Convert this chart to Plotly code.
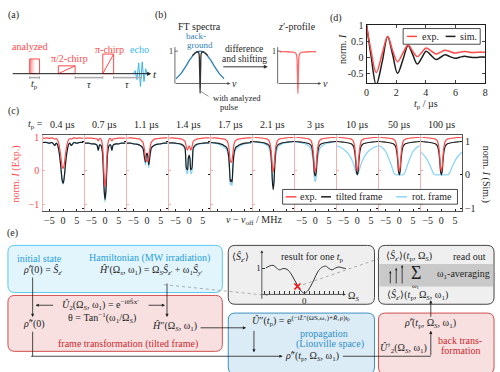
import plotly.graph_objects as go

SERIF = "Liberation Serif"
RED = "#ff4a4a"
RED_SOFT = "#f7b0b0"
RED_TEXT = "#c8292f"
BLUE = "#8bd5f7"
BLUE_TEXT = "#25a0dc"
DARK = "#1e1e1e"

# (d) normalised intensity vs pulse length
tp_d = [0, 0.3, 0.65, 1.05, 1.42, 1.75, 2.09, 2.45, 2.8, 3.1, 3.42, 3.72, 4.02, 4.35, 4.69,
        5.0, 5.29, 5.62, 5.95, 6.28, 6.6, 6.92, 7.25, 7.58, 7.9, 8.0]
exp_d = [1.0, 0.2, -0.48, 0.1, 0.65, 0.22, -0.14, 0.13, 0.38, 0.2, 0.02, 0.15, 0.29, 0.2, 0.1,
         0.16, 0.22, 0.18, 0.13, 0.16, 0.18, 0.16, 0.15, 0.16, 0.16, 0.16]
sim_d = [1.0, 0.05, -0.86, -0.15, 0.65, 0.1, -0.5, -0.08, 0.37, 0.1, -0.21, -0.02, 0.19, 0.06, -0.07,
         0.0, 0.08, 0.02, -0.03, 0.0, 0.03, 0.01, -0.01, 0.0, 0.01, 0.0]

# (c) z'-profiles for different t_p
nu_c = [-7.5, -6, -5, -4, -3, -2.5, -2, -1.5, -1, -0.6, -0.3, 0, 0.3, 0.6, 1, 1.5, 2, 2.5, 3, 4, 5, 6, 7.5]
tp_c = ["0.4 µs", "0.7 µs", "1.1 µs", "1.4 µs", "1.7 µs", "2.1 µs", "3 µs", "10 µs", "50 µs", "100 µs"]
exp_c = [
    [0.97, 0.99, 0.97, 0.99, 0.95, 0.97, 0.93, 0.8, 0.55, 0.3, 0.12, 0.07, 0.12, 0.3, 0.55, 0.8, 0.93, 0.97, 0.95, 0.99, 0.97, 0.99, 0.97],
    [0.98, 0.98, 0.98, 0.97, 0.96, 0.9, 0.97, 0.95, 0.8, 0.3, -0.25, -0.47, -0.25, 0.3, 0.8, 0.95, 0.97, 0.9, 0.96, 0.97, 0.98, 0.98, 0.98],
    [0.99, 0.99, 0.98, 0.97, 0.96, 0.95, 0.9, 0.85, 0.65, 0.4, 0.3, 0.32, 0.28, 0.38, 0.65, 0.85, 0.9, 0.95, 0.96, 0.97, 0.98, 0.99, 0.99],
    [0.99, 0.99, 0.98, 0.97, 0.96, 0.94, 0.92, 0.88, 0.7, 0.62, 0.7, 0.75, 0.7, 0.62, 0.7, 0.88, 0.92, 0.94, 0.96, 0.97, 0.98, 0.99, 0.99],
    [0.99, 0.99, 0.98, 0.97, 0.96, 0.95, 0.93, 0.9, 0.78, 0.5, 0.3, 0.25, 0.3, 0.5, 0.78, 0.9, 0.93, 0.95, 0.96, 0.97, 0.98, 0.99, 0.99],
    [1.0, 1.0, 0.99, 0.98, 0.97, 0.96, 0.94, 0.9, 0.75, 0.45, 0.12, -0.03, 0.12, 0.45, 0.75, 0.9, 0.94, 0.96, 0.97, 0.98, 0.99, 1.0, 1.0],
    [1.0, 1.0, 0.99, 0.98, 0.97, 0.96, 0.94, 0.9, 0.75, 0.45, 0.1, -0.03, 0.1, 0.45, 0.75, 0.9, 0.94, 0.96, 0.97, 0.98, 0.99, 1.0, 1.0],
    [1.0, 1.0, 0.99, 0.98, 0.97, 0.96, 0.94, 0.9, 0.75, 0.45, 0.12, 0.0, 0.12, 0.45, 0.75, 0.9, 0.94, 0.96, 0.97, 0.98, 0.99, 1.0, 1.0],
    [1.0, 1.0, 0.99, 0.98, 0.97, 0.96, 0.94, 0.9, 0.75, 0.45, 0.12, 0.0, 0.12, 0.45, 0.75, 0.9, 0.94, 0.96, 0.97, 0.98, 0.99, 1.0, 1.0],
    [1.0, 1.0, 0.99, 0.98, 0.97, 0.96, 0.94, 0.9, 0.75, 0.45, 0.12, 0.0, 0.12, 0.45, 0.75, 0.9, 0.94, 0.96, 0.97, 0.98, 0.99, 1.0, 1.0],
]
tilted_c = [
    [0.97, 0.97, 0.95, 0.97, 0.88, 0.95, 0.9, 0.72, 0.4, 0.05, -0.17, -0.26, -0.17, 0.05, 0.4, 0.72, 0.9, 0.95, 0.88, 0.97, 0.95, 0.97, 0.97],
    [0.95, 0.95, 0.93, 0.93, 0.9, 0.73, 0.9, 0.88, 0.7, 0.1, -0.5, -0.74, -0.5, 0.1, 0.7, 0.88, 0.9, 0.73, 0.9, 0.93, 0.93, 0.95, 0.95],
    [0.95, 0.95, 0.93, 0.92, 0.9, 0.88, 0.85, 0.8, 0.55, 0.38, 0.6, 0.65, 0.55, 0.3, 0.55, 0.8, 0.85, 0.88, 0.9, 0.92, 0.93, 0.95, 0.95],
    [0.96, 0.96, 0.95, 0.94, 0.92, 0.9, 0.87, 0.8, 0.2, 0.15, 0.5, 0.59, 0.5, 0.15, 0.2, 0.8, 0.87, 0.9, 0.92, 0.94, 0.95, 0.96, 0.96],
    [0.97, 0.96, 0.95, 0.93, 0.9, 0.87, 0.85, 0.8, 0.62, 0.2, -0.2, -0.15, -0.22, 0.2, 0.62, 0.8, 0.85, 0.87, 0.9, 0.93, 0.95, 0.96, 0.97],
    [1.0, 0.99, 0.98, 0.97, 0.95, 0.93, 0.92, 0.88, 0.75, 0.35, -0.2, -0.45, -0.2, 0.35, 0.75, 0.88, 0.92, 0.93, 0.95, 0.97, 0.98, 0.99, 1.0],
    [1.0, 0.99, 0.98, 0.97, 0.95, 0.94, 0.92, 0.88, 0.72, 0.4, 0.05, -0.03, 0.05, 0.4, 0.72, 0.88, 0.92, 0.94, 0.95, 0.97, 0.98, 0.99, 1.0],
    [1.0, 0.99, 0.98, 0.97, 0.95, 0.94, 0.92, 0.87, 0.72, 0.42, 0.1, 0.0, 0.1, 0.42, 0.72, 0.87, 0.92, 0.94, 0.95, 0.97, 0.98, 0.99, 1.0],
    [1.0, 0.99, 0.98, 0.97, 0.95, 0.94, 0.92, 0.87, 0.72, 0.42, 0.1, 0.0, 0.1, 0.42, 0.72, 0.87, 0.92, 0.94, 0.95, 0.97, 0.98, 0.99, 1.0],
    [1.0, 0.99, 0.98, 0.97, 0.95, 0.94, 0.92, 0.87, 0.72, 0.42, 0.1, 0.0, 0.1, 0.42, 0.72, 0.87, 0.92, 0.94, 0.95, 0.97, 0.98, 0.99, 1.0],
]
rot_c = [
    [0.97, 0.97, 0.95, 0.97, 0.88, 0.95, 0.9, 0.72, 0.4, 0.04, -0.19, -0.28, -0.19, 0.04, 0.4, 0.72, 0.9, 0.95, 0.88, 0.97, 0.95, 0.97, 0.97],
    [0.95, 0.95, 0.93, 0.93, 0.9, 0.73, 0.9, 0.88, 0.7, 0.08, -0.55, -0.82, -0.55, 0.08, 0.7, 0.88, 0.9, 0.73, 0.9, 0.93, 0.93, 0.95, 0.95],
    [0.95, 0.95, 0.93, 0.92, 0.9, 0.87, 0.83, 0.76, 0.5, 0.3, 0.55, 0.62, 0.5, 0.22, 0.5, 0.76, 0.83, 0.87, 0.9, 0.92, 0.93, 0.95, 0.95],
    [0.95, 0.95, 0.94, 0.93, 0.9, 0.88, 0.84, 0.75, 0.08, 0.03, 0.45, 0.55, 0.45, 0.03, 0.08, 0.75, 0.84, 0.88, 0.9, 0.93, 0.94, 0.95, 0.95],
    [0.96, 0.95, 0.93, 0.9, 0.86, 0.82, 0.8, 0.73, 0.55, 0.1, -0.3, -0.25, -0.32, 0.1, 0.55, 0.73, 0.8, 0.82, 0.86, 0.9, 0.93, 0.95, 0.96],
    [0.99, 0.98, 0.97, 0.95, 0.92, 0.9, 0.87, 0.8, 0.6, 0.3, -0.15, -0.35, -0.15, 0.3, 0.6, 0.8, 0.87, 0.9, 0.92, 0.95, 0.97, 0.98, 0.99],
    [0.99, 0.98, 0.96, 0.94, 0.9, 0.87, 0.83, 0.75, 0.55, 0.25, -0.1, -0.2, -0.1, 0.25, 0.55, 0.75, 0.83, 0.87, 0.9, 0.94, 0.96, 0.98, 0.99],
    [0.87, 0.82, 0.77, 0.7, 0.6, 0.53, 0.45, 0.35, 0.22, 0.12, 0.04, 0.0, 0.04, 0.12, 0.22, 0.35, 0.45, 0.53, 0.6, 0.7, 0.77, 0.82, 0.87],
    [0.88, 0.8, 0.7, 0.52, 0.3, 0.18, 0.06, 0.01, 0.0, 0.0, 0.0, 0.0, 0.0, 0.0, 0.0, 0.01, 0.06, 0.18, 0.3, 0.52, 0.7, 0.8, 0.88],
    [0.68, 0.55, 0.42, 0.25, 0.06, 0.01, 0.0, 0.0, 0.0, 0.0, 0.0, 0.0, 0.0, 0.0, 0.0, 0.0, 0.0, 0.01, 0.06, 0.25, 0.42, 0.55, 0.68],
]

# (b) sketch spectra
nu_b = [-2.5, -2, -1.5, -1, -0.5, 0, 0.5, 1, 1.5, 2, 2.5]
bg_b = [0.15, 0.3, 0.52, 0.76, 0.94, 1.0, 0.94, 0.76, 0.52, 0.3, 0.15]
nu_notch = [-0.8, -0.5, -0.3, -0.15, -0.06, 0, 0.06, 0.15, 0.3, 0.5, 0.8]
pulse_b = [0.86, 0.94, 0.98, 0.95, 0.5, -0.3, 0.5, 0.95, 0.98, 0.94, 0.86]
nu_z = [-2, -1.2, -0.6, -0.3, -0.15, -0.06, 0, 0.06, 0.15, 0.3, 0.6, 1.2, 2]
z_prof = [0.98, 0.98, 0.97, 0.95, 0.88, 0.4, -0.3, 0.4, 0.88, 0.95, 0.97, 0.98, 0.98]

# (e) result for one t_p
omega_e = [-7.8, -7, -6.3, -5.6, -5, -4.3, -3.5, -2.7, -2, -1.3, -0.6, 0, 0.6, 1.3, 2, 2.7, 3.5, 4.3, 5, 5.6, 6.3, 7, 7.8, 8.4]
sz_e = [1.0, 1.08, 1.1, 1.0, 0.93, 0.98, 0.95, 0.78, 0.55, 0.32, 0.12, 0.05, 0.12, 0.32, 0.58, 0.85, 1.02, 1.07, 0.98, 0.93, 1.0, 1.04, 1.0, 0.98]
omega_mark = [-1.4]
sz_mark = [0.3]

# echo sketch in (a)
echo_amp = [0, 3, -6, 11, -13, 12, -8, 5, -2, 0]

W, H = 500, 372


def px(x):
    return x / W


def py(y):
    return 1 - y / H


ann = []
shapes = []


def text(x, y, s, size=10, color=DARK, angle=0, xanchor="center"):
    ann.append(dict(x=px(x), y=py(y), xref="paper", yref="paper", text=s, showarrow=False,
                    font=dict(size=size, color=color, family=SERIF), textangle=angle,
                    xanchor=xanchor, yanchor="middle"))


def arrow(x0, y0, x1, y1, color=DARK, width=1, size=0.8):
    ann.append(dict(x=px(x1), y=py(y1), xref="paper", yref="paper", ax=x0 - x1, ay=y0 - y1,
                    axref="pixel", ayref="pixel", text="", showarrow=True, arrowhead=2,
                    arrowsize=size, arrowwidth=width, arrowcolor=color))


def line(x0, y0, x1, y1, color=DARK, width=1, dash=None, layer="above"):
    shapes.append(dict(type="line", xref="paper", yref="paper", x0=px(x0), y0=py(y0),
                       x1=px(x1), y1=py(y1), layer=layer,
                       line=dict(color=color, width=width, dash=dash)))


def rect(x0, y0, x1, y1, color=DARK, fill="rgba(0,0,0,0)", width=1, layer="above"):
    shapes.append(dict(type="rect", xref="paper", yref="paper", x0=px(x0), y0=py(y0),
                       x1=px(x1), y1=py(y1), fillcolor=fill, layer=layer,
                       line=dict(color=color, width=width)))


def rrect(x0, y0, x1, y1, color, fill, r=7, width=1):
    p = (f"M {px(x0 + r)},{py(y0)} L {px(x1 - r)},{py(y0)} Q {px(x1)},{py(y0)} {px(x1)},{py(y0 + r)} "
         f"L {px(x1)},{py(y1 - r)} Q {px(x1)},{py(y1)} {px(x1 - r)},{py(y1)} "
         f"L {px(x0 + r)},{py(y1)} Q {px(x0)},{py(y1)} {px(x0)},{py(y1 - r)} "
         f"L {px(x0)},{py(y0 + r)} Q {px(x0)},{py(y0)} {px(x0 + r)},{py(y0)} Z")
    shapes.append(dict(type="path", xref="paper", yref="paper", path=p, fillcolor=fill,
                       layer="below", line=dict(color=color, width=width)))


fig = go.Figure()
layout = {}

# ---------- (d) ----------
fig.add_trace(go.Scatter(x=tp_d, y=sim_d, mode="lines", xaxis="x", yaxis="y",
                         line=dict(color=DARK, width=1.5, shape="spline")))
fig.add_trace(go.Scatter(x=tp_d, y=exp_d, mode="lines", xaxis="x", yaxis="y",
                         line=dict(color=RED, width=1.5, shape="spline")))
tick_font = dict(size=10, family=SERIF, color=DARK)
layout["xaxis"] = dict(domain=[px(368), px(488)], range=[0, 8], anchor="y", tickvals=[0, 2, 4, 6, 8],
                       ticks="inside", ticklen=3, showline=True, mirror="ticks", linecolor=DARK,
                       showgrid=False, zeroline=False, tickfont=tick_font)
layout["yaxis"] = dict(domain=[py(80), py(20)], range=[-0.82, 1.02], anchor="x",
                       tickvals=[-0.5, 0, 0.5, 1], ticktext=["-0.5", "0", "0.5", "1"],
                       ticks="inside", ticklen=3, showline=True, mirror="ticks", linecolor=DARK,
                       showgrid=False, zeroline=False, tickfont=tick_font)
text(343, 45, "norm. <i>I</i>", angle=-90)
text(428, 101, "<i>t</i><sub>p</sub> / µs")
rect(405, 24, 483, 40, color=DARK, fill="white", width=0.8)
line(409, 32, 419, 32, RED, 1.5)
text(422, 32, "exp.", xanchor="left")
line(448, 32, 458, 32, DARK, 1.5)
text(461, 32, "sim.", xanchor="left")

# ---------- (c) ----------
for i in range(10):
    n = i + 2
    xa, ys, ye = f"x{n}", f"y{n}", f"y{n + 10}"
    fig.add_trace(go.Scatter(x=nu_c, y=rot_c[i], mode="lines", xaxis=xa, yaxis=ys,
                             line=dict(color=BLUE, width=1.3, shape="spline", smoothing=0.8)))
    fig.add_trace(go.Scatter(x=nu_c, y=tilted_c[i], mode="lines", xaxis=xa, yaxis=ys,
                             line=dict(color=DARK, width=1.2, shape="spline", smoothing=0.8)))
    fig.add_trace(go.Scatter(x=nu_c, y=exp_c[i], mode="lines", xaxis=xa, yaxis=ye,
                             line=dict(color=RED, width=1.2, shape="spline", smoothing=0.8)))
    x0 = 40 + 42.55 * i
    layout[f"xaxis{n}"] = dict(domain=[px(x0), px(x0 + 41.5)], range=[-7.5, 7.5], anchor=ys,
                               tickvals=[-5, 0, 5], ticks="inside", ticklen=2, tickcolor=DARK,
                               showline=True, mirror=True, linecolor="#555", linewidth=1,
                               showgrid=False, zeroline=False, showticklabels=i not in (4, 5),
                               tickfont=tick_font)
    layout[f"yaxis{n}"] = dict(domain=[py(210), py(132)], range=[-1.09, 1.21], anchor=xa, side="right",
                               tickvals=[-1, 0, 1], ticks="inside", ticklen=2, tickcolor=DARK,
                               showline=True, linecolor="#555", linewidth=1, showgrid=False,
                               zeroline=False, showticklabels=(i == 9), tickfont=tick_font)
    layout[f"yaxis{n + 10}"] = dict(overlaying=ys, anchor=xa, side="left", range=[-1.21, 1.09],
                                    tickvals=[-1, 0, 1], ticks="inside", ticklen=2, tickcolor=RED_SOFT,
                                    tickwidth=1, showline=True, linecolor=RED_SOFT, linewidth=1.4,
                                    showgrid=False, zeroline=False, showticklabels=(i == 0),
                                    tickfont=dict(size=10, family=SERIF, color=RED))
    text(60.5 + 42.55 * i, 122, tp_c[i])
text(33, 122, "<i>t</i><sub>p</sub> =")
text(13, 172, "norm. <i>I</i> (Exp.)", color=RED, angle=-90)
text(489, 172, "norm. <i>I</i> (Sim.)", angle=90)
text(254, 220, "<i>ν</i> − <i>ν</i><sub>off</sub> / MHz")
rect(283, 188, 460, 203, color=DARK, fill="white", width=0.8)
line(286, 195.5, 297, 195.5, RED, 1.5)
text(299, 195.5, "exp.", xanchor="left")
line(322, 195.5, 332, 195.5, DARK, 1.5)
text(335, 195.5, "tilted frame", xanchor="left")
line(398, 195.5, 409, 195.5, BLUE, 1.5)
text(412, 195.5, "rot. frame", xanchor="left")

# ---------- (b) ----------
fig.add_trace(go.Scatter(x=nu_b, y=bg_b, mode="lines", xaxis="x12", yaxis="y22",
                         line=dict(color="#2f7fb5", width=1.3, shape="spline")))
fig.add_trace(go.Scatter(x=nu_notch, y=pulse_b, mode="lines", xaxis="x12", yaxis="y22",
                         line=dict(color="#333", width=1.3, shape="spline")))
fig.add_trace(go.Scatter(x=nu_z, y=z_prof, mode="lines", xaxis="x13", yaxis="y23",
                         line=dict(color="#ff6b6b", width=1.3, shape="spline")))
layout["xaxis12"] = dict(domain=[px(175), px(224)], range=[-2.5, 2.5], anchor="y22", visible=False)
layout["yaxis22"] = dict(domain=[py(95), py(40)], range=[-0.45, 1.21], anchor="x12", visible=False)
layout["xaxis13"] = dict(domain=[px(280), px(317)], range=[-2, 2], anchor="y23", visible=False)
layout["yaxis23"] = dict(domain=[py(95), py(40)], range=[-0.45, 1.21], anchor="x13", visible=False)
for ax0, ax1 in ((174, 230), (278, 322)):
    line(ax0, 43, ax0, 80, "#444", 0.8)
    line(ax0, 47, ax0 + 3, 47, "#444", 0.8)
    arrow(ax0, 80, ax1, 80, "#444", 0.8, 0.7)
    text(ax0 - 4, 47, "1", size=8)
    text(ax1 + 4, 80, "<i>ν</i>", size=10)
text(199, 22, "FT spectra")
text(298, 22, "<i>z</i>′-profile")
text(195, 32, "back-", size=9, color="#2f7fb5")
text(199, 40.5, "ground", size=9, color="#2f7fb5")
text(244, 45, "difference", size=9.5)
text(244, 55, "and shifting", size=9.5)
arrow(222, 63, 268, 63, "#333", 1, 0.8)
line(200, 88, 208, 93, "#666", 0.7)
text(237, 95, "with analyzed", size=8.5)
text(229, 104, "pulse", size=8.5)

# ---------- (a) ----------
for k, op in enumerate([0.75, 0.55, 0.38, 0.24, 0.13, 0.05]):
    rect(27 + k, 55, 28 + k, 70, color="rgba(0,0,0,0)", fill=f"rgba(255,80,80,{op})", width=0)
rect(27, 55, 37, 70, color=RED, width=1)
rect(56, 62, 73, 70, color=RED, width=1)
line(56, 70, 73, 62, RED, 1)
rect(101, 50, 112, 70, color=RED, width=1)
line(101, 70, 112, 50, RED, 1)
ex0, ex1 = 132, 148
pts = " L ".join(f"{px(ex0 + (ex1 - ex0) * k / (len(echo_amp) - 1))},{py(70 - a)}"
                 for k, a in enumerate(echo_amp))
shapes.append(dict(type="path", xref="paper", yref="paper", path="M " + pts,
                   line=dict(color="#39b6f0", width=1)))
arrow(10, 70, 150, 70, DARK, 1, 0.8)
text(154, 70, "<i>t</i>", size=11)
for b0, b1, lab in ((27, 37, "<i>t</i><sub>p</sub>"), (73, 101, "<i>τ</i>"), (112, 140, "<i>τ</i>")):
    line(b0, 74, b1, 74, "#aaa", 1.5)
    line(b0, 72.5, b0, 75.5, "#aaa", 1)
    line(b1, 72.5, b1, 75.5, "#aaa", 1)
    text((b0 + b1) / 2, 81, lab)
text(27, 42, "analyzed", color=RED)
text(67, 55, "π/2-chirp", color=RED)
text(108, 45, "π-chirp", color=RED)
text(138, 45, "echo", color="#39b6f0")

# ---------- (e) ----------
rrect(5, 245, 222, 293, "#5cc6f2", "#e2f5fd")
rrect(5, 296, 222, 353, "#cf4f4f", "#f8e0e0")
rrect(228, 245, 376, 305, "#444", "#efefef")
rrect(380, 245, 497, 305, "#444", "#efefef")
rect(381, 264, 496, 287, color="rgba(0,0,0,0)", fill="#c9c9c9", width=0, layer="below")
rrect(228, 314, 376, 376, "#3f8fc0", "#dcecf6")
rrect(380, 314, 497, 376, "#cf4f4f", "#f8e0e0")

fig.add_trace(go.Scatter(x=omega_e, y=sz_e, mode="lines", xaxis="x14", yaxis="y24",
                         line=dict(color="#333", width=1, shape="spline")))
fig.add_trace(go.Scatter(x=omega_mark, y=sz_mark, mode="markers", xaxis="x14", yaxis="y24",
                         marker=dict(symbol="x-thin", size=6, line=dict(color="red", width=1.5))))
layout["xaxis14"] = dict(domain=[px(262), px(348)], range=[-8.6, 8.6], anchor="y24", showline=False,
                         showgrid=False, zeroline=False, tickvals=list(range(-8, 9)),
                         ticktext=[""] * 8 + ["0"] + [""] * 8, ticks="inside", ticklen=3,
                         tickcolor="#333", tickfont=dict(size=9, family=SERIF, color=DARK))
layout["yaxis24"] = dict(domain=[py(295), py(250)], range=[0, 1.67], anchor="x14", showline=False,
                         showgrid=False, zeroline=False, tickvals=[1], ticktext=["1"], ticks="inside",
                         ticklen=3, tickcolor="#333", tickfont=dict(size=9, family=SERIF, color=DARK))
arrow(262, 295, 347, 295, "#333", 0.8, 0.7)
arrow(262, 300, 262, 250, "#333", 0.8, 0.7)
text(355, 297, "Ω<sub><i>S</i></sub>", size=10)
text(240, 257, "⟨<i>Ŝ</i><sub><i>z</i>′</sub>⟩", size=10)
text(313, 257, "result for one <i>t</i><sub>p</sub>", size=10)

text(37, 258, "initial state", color=BLUE_TEXT)
text(40, 271, "<i>ρ̃</i>′(0) = <i>Ŝ</i><sub><i>z</i>′</sub>")
text(148, 258, "Hamiltonian (MW irradiation)", color=BLUE_TEXT)
text(150, 271, "<i>Ĥ</i>′(Ω<sub><i>s</i></sub>, ω<sub>1</sub>) = Ω<sub><i>S</i></sub><i>Ŝ</i><sub><i>z</i>′</sub> + ω<sub>1</sub><i>Ŝ</i><sub><i>y</i>′</sub>")

text(99, 306, "<i>Û</i><sub>2</sub>(Ω<sub><i>S</i></sub>, ω<sub>1</sub>) = e<sup>−iθŜx′</sup>")
text(100, 319, "θ = Tan<sup>−1</sup>(ω<sub>1</sub>/Ω<sub><i>S</i></sub>)")
text(31, 325, "<i>ρ̃</i>″(0)")
text(174, 328, "<i>Ĥ</i>″(Ω<sub><i>S</i></sub>, ω<sub>1</sub>)")
text(127, 345, "frame transformation (tilted frame)", color=RED_TEXT)
arrow(52, 306, 33, 306, DARK, 0.8, 0.8)
arrow(146, 306, 164, 306, DARK, 0.8, 0.8)
arrow(30, 277, 30, 318, DARK, 0.8, 0.8)
arrow(166, 283, 166, 318, DARK, 0.8, 0.8)
arrow(199, 329, 246, 329, DARK, 0.8, 0.8)
line(30, 333, 30, 358, DARK, 0.8)
arrow(30, 358, 283, 358, DARK, 0.8, 0.8)
arrow(254, 331, 254, 354, DARK, 0.8, 0.8)
line(344, 358, 433, 358, DARK, 0.8)
arrow(433, 358, 433, 332, DARK, 0.8, 0.8)
arrow(433, 319, 433, 301, DARK, 0.8, 0.8)
line(163, 285, 268, 296, "#999", 0.8, "dot")
line(298, 287, 382, 258, "#999", 0.8, "dot")

text(302, 322, "<i>Û</i>″(<i>t</i><sub>p</sub>) = e<sup>(−i<i>L̂</i>″(ΩS,ω₁)+<i>R̂</i>₂ρ)tₚ</sup>")
text(325, 335, "propagation", color="#2f8fc7")
text(331, 346, "(Liouville space)", color="#2f8fc7")
text(313, 358, "<i>ρ̃</i>″(<i>t</i><sub>p</sub>, Ω<sub><i>S</i></sub>, ω<sub>1</sub>)")

text(432, 325, "<i>ρ̃</i>′(<i>t</i><sub>p</sub>, Ω<sub><i>S</i></sub>, ω<sub>1</sub>)")
text(405, 350, "<i>Û</i><sup>†</sup><sub>2</sub>(Ω<sub><i>S</i></sub>, ω<sub>1</sub>)")
text(463, 342, "back trans-", color=RED_TEXT)
text(463, 352, "formation", color=RED_TEXT)

text(411, 256, "⟨<i>Ŝ</i><sub><i>z</i>′</sub>⟩(<i>t</i><sub>p</sub>, Ω<sub><i>S</i></sub>)")
text(472, 256, "read out")
arrow(392, 285, 392, 271, DARK, 0.8, 0.6)
arrow(398, 285, 398, 268, DARK, 0.8, 0.6)
arrow(404, 285, 404, 265, DARK, 0.8, 0.6)
text(418, 273, "Σ", size=18)
text(418, 286, "ω<sub>1</sub>", size=7)
text(466, 275, "ω<sub>1</sub>-averaging")
text(420, 296, "⟨<i>Ŝ</i><sub><i>z</i>′</sub>⟩(<i>t</i><sub>p</sub>, Ω<sub><i>S</i></sub>, ω<sub>1</sub>)")

# panel letters
text(11, 10, "(a)")
text(160, 10, "(b)")
text(11, 108, "(c)")
text(337, 13, "(d)")
text(10, 232, "(e)")

fig.update_layout(width=W, height=H, margin=dict(l=0, r=0, t=0, b=0), showlegend=False,
                  paper_bgcolor="white", plot_bgcolor="rgba(0,0,0,0)",
                  font=dict(family=SERIF, size=10, color=DARK),
                  annotations=ann, shapes=shapes, **layout)
fig.write_html("out.html", config={"displayModeBar": False},
               post_script="document.body.style.margin='0';")
